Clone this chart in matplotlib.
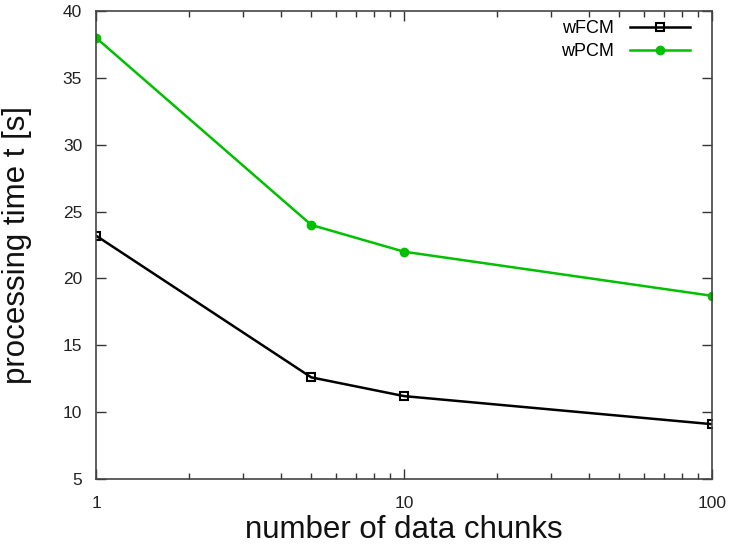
import matplotlib
matplotlib.use("Agg")
import matplotlib.pyplot as plt
from matplotlib.ticker import LogLocator, NullFormatter, FixedLocator, FixedFormatter

plt.rcParams['font.family'] = ['Liberation Sans', 'DejaVu Sans']

chunks = [1, 5, 10, 100]
wfcm = [23.2, 12.6, 11.2, 9.1]
wpcm = [38.0, 24.0, 22.0, 18.7]
xticks = [1, 10, 100]
xticklabels = ['1', '10', '100']
yticks = [5, 10, 15, 20, 25, 30, 35, 40]

fig = plt.figure(figsize=(7.29, 5.5), dpi=100)
ax = fig.add_axes([0.1317, 0.1291, 0.8450, 0.8509])

ax.plot(chunks, wfcm, color='black', lw=1.8, marker='s', ms=6, mfc='none',
        mec='black', mew=1.5, label='wFCM')
ax.plot(chunks, wpcm, color='#00c000', lw=1.8, marker='o', ms=6,
        mfc='#00c000', mec='#00c000', label='wPCM')

ax.set_xscale('log')
ax.set_xlim(1, 100)
ax.set_ylim(5, 40)
ax.xaxis.set_major_locator(FixedLocator(xticks))
ax.xaxis.set_major_formatter(FixedFormatter(xticklabels))
ax.xaxis.set_minor_locator(LogLocator(base=10, subs=range(2, 10)))
ax.xaxis.set_minor_formatter(NullFormatter())
ax.set_yticks(yticks)

ax.tick_params(axis='both', which='both', direction='in', top=True, right=True,
               colors='#333333', labelcolor='#222222', labelsize=12.5)
ax.tick_params(axis='both', which='major', length=7, width=1)
ax.tick_params(axis='both', which='minor', length=4, width=1)
ax.tick_params(axis='x', pad=12)
ax.tick_params(axis='y', pad=10)
for s in ax.spines.values():
    s.set_color('#444444')
    s.set_linewidth(1.2)

ax.set_xlabel('number of data chunks', fontsize=22.5, color='#111111')
ax.set_ylabel('processing time t [s]', fontsize=22.5, color='#111111')
ax.xaxis.set_label_coords(0.5, -0.078)
ax.yaxis.set_label_coords(-0.104, 0.5)

ax.legend(loc='upper right', bbox_to_anchor=(0.964, 0.981), frameon=False,
          markerfirst=False, fontsize=13, handlelength=3.3, borderpad=0,
          borderaxespad=0, labelspacing=0.35, handletextpad=0.9)

fig.savefig('out.png', dpi=100)
